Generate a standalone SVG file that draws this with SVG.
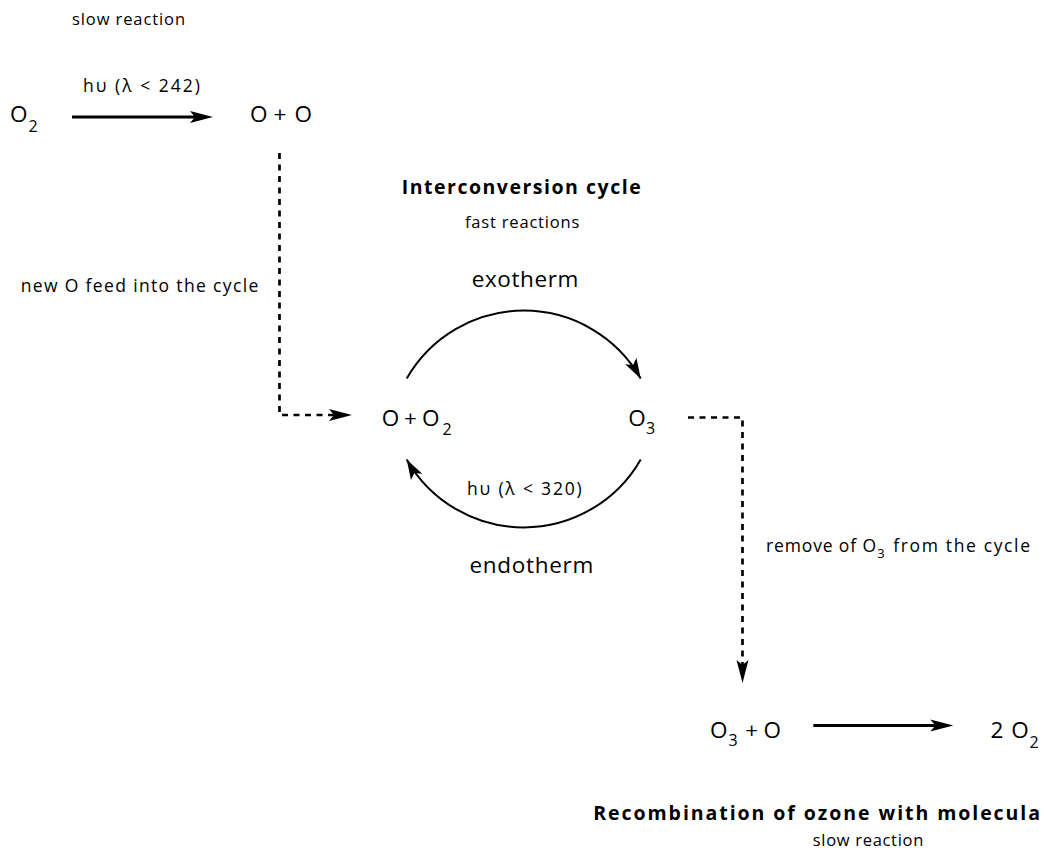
<svg xmlns="http://www.w3.org/2000/svg" width="1044" height="859" viewBox="0 0 1044 859">
<style>
text{font-family:"Open Sans","DejaVu Sans",sans-serif;fill:#000}
.big{font-size:22.5px}
.plus{font-size:22.5px;text-anchor:middle}
.sub{font-size:16px}
.lbl{font-size:17.5px}
.small{font-size:16.5px}
.bold{font-size:19.5px;font-weight:bold}
.solid{fill:none;stroke:#000;stroke-width:3}
.dash{fill:none;stroke:#000;stroke-width:2.7;stroke-dasharray:6 5.5}
.arc{fill:none;stroke:#000;stroke-width:2}
</style>
<defs>
<marker id="ah" markerUnits="userSpaceOnUse" markerWidth="24" markerHeight="14" refX="6" refY="6" orient="auto" overflow="visible">
<path d="M0 0 L23 6 L0 12 L5 6 Z" fill="#000"/>
</marker>
<marker id="ahs" markerUnits="userSpaceOnUse" markerWidth="22" markerHeight="14" refX="20" refY="6.5" orient="auto" overflow="visible">
<path d="M0 0 L20 6.5 L0 13 L4.5 6.5 Z" fill="#000"/>
</marker>
</defs>
<rect width="1044" height="859" fill="#fff"/>

<g id="title-top">
<text class="small" x="72" y="25" textLength="113">slow reaction</text>
</g>
<g id="n-o2">
<text class="big" x="10" y="122">O</text>
<text class="sub" x="28.5" y="132">2</text>
</g>
<g id="n-oo">
<text class="big" x="250" y="122">O</text>
<text class="plus" x="280" y="122">+</text>
<text class="big" x="294.5" y="122">O</text>
</g>
<g id="lbl-hv242">
<text class="lbl" x="83" y="92" textLength="117">hυ (λ &lt; 242)</text>
</g>
<g id="lbl-feed">
<text class="lbl" x="20.7" y="292.3" textLength="237.6">new O feed into the cycle</text>
</g>
<g id="title-cycle">
<text class="bold" x="401.7" y="194.3" textLength="239">Interconversion cycle</text>
<text class="small" x="465" y="228.3" textLength="114.3">fast reactions</text>
</g>
<g id="lbl-exo">
<text class="big" x="471.7" y="286.7" textLength="106.6">exotherm</text>
</g>
<g id="n-oo2">
<text class="big" x="381.7" y="426">O</text>
<text class="plus" x="410.5" y="426">+</text>
<text class="big" x="422" y="426">O</text>
<text class="sub" x="442.5" y="435">2</text>
</g>
<g id="n-o3">
<text class="big" x="628.3" y="426">O</text>
<text class="sub" x="646" y="434">3</text>
</g>
<g id="lbl-hv320">
<text class="lbl" x="467" y="494.5" textLength="114.7">hυ (λ &lt; 320)</text>
</g>
<g id="lbl-endo">
<text class="big" x="469.5" y="573" textLength="123.8">endotherm</text>
</g>
<g id="lbl-remove">
<text class="lbl" x="766" y="551.7" textLength="110">remove of O</text>
<text class="sub" x="877.3" y="558.3" style="font-size:13px">3</text>
<text class="lbl" x="893.3" y="551.7" textLength="136.7">from the cycle</text>
</g>
<g id="n-o3o">
<text class="big" x="710" y="737.5">O</text>
<text class="sub" x="728.5" y="745.5">3</text>
<text class="plus" x="751.7" y="737.5">+</text>
<text class="big" x="763.5" y="737.5">O</text>
</g>
<g id="n-2o2">
<text class="big" x="990.5" y="737.5">2</text>
<text class="big" x="1011.3" y="737.5">O</text>
<text class="sub" x="1029.5" y="748">2</text>
</g>
<g id="title-bottom">
<text class="bold" x="593.3" y="820" textLength="446.7">Recombination of ozone with molecula</text>
<text class="small" x="812.7" y="846" textLength="110.6">slow reaction</text>
</g>

<g id="connectors">
<path class="solid" d="M72 117 H196" marker-end="url(#ah)"/>
<path class="solid" d="M813.3 725.5 H936.3" marker-end="url(#ah)"/>
<path class="dash" d="M279.5 153 V415 H335" marker-end="url(#ah)"/>
<path class="dash" d="M688 417.5 H742.5 V666" marker-end="url(#ah)"/>
<path class="arc" d="M406.7 378.5 A134.7 134.7 0 0 1 640.7 378.5" marker-end="url(#ahs)"/>
<path class="arc" d="M640.7 459.5 A134.7 134.7 0 0 1 406.7 459.5" marker-end="url(#ahs)"/>
</g>
</svg>
